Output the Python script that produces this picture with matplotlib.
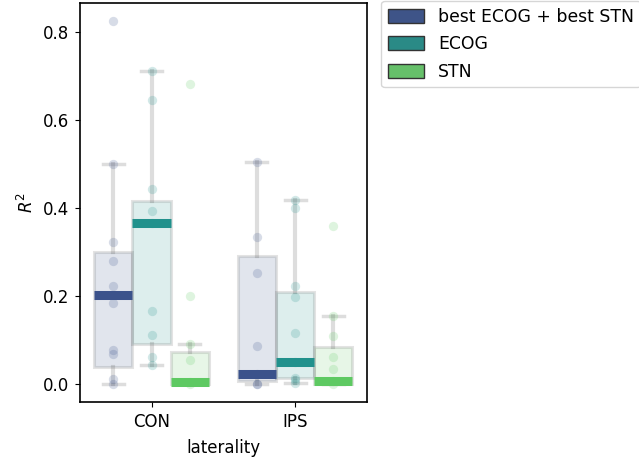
import numpy as np
import matplotlib.pyplot as plt
from matplotlib.patches import Patch

# ---------------------------------------------------------------------
# Data
# ---------------------------------------------------------------------
lateralities = ["CON", "IPS"]
models = ["best ECOG + best STN", "ECOG", "STN"]
colors = ["#3b528b", "#21918c", "#5ec962"]
legend_colors = ["#3e5488", "#2a8a86", "#66c06a"]

# box statistics per laterality -> per model
medians = [[0.202, 0.365, 0.005], [0.022, 0.049, 0.007]]
q1s = [[0.038, 0.090, 0.0], [0.006, 0.013, 0.0]]
q3s = [[0.299, 0.416, 0.073], [0.291, 0.208, 0.085]]
whis_lo = [[0.0, 0.042, 0.0], [0.001, 0.002, 0.0]]
whis_hi = [[0.499, 0.712, 0.091], [0.505, 0.419, 0.154]]

# individual subject points
points_con_best = [0.825, 0.499, 0.323, 0.280, 0.223, 0.185, 0.077, 0.068, 0.011, 0.0]
points_con_ecog = [0.712, 0.644, 0.442, 0.393, 0.365, 0.165, 0.112, 0.062, 0.042]
points_con_stn = [0.682, 0.200, 0.091, 0.055, 0.005, 0.0]
points_ips_best = [0.505, 0.333, 0.253, 0.087, 0.022, 0.001, 0.0]
points_ips_ecog = [0.419, 0.399, 0.222, 0.197, 0.116, 0.049, 0.014, 0.009, 0.003]
points_ips_stn = [0.358, 0.154, 0.108, 0.061, 0.033, 0.007, 0.0]
points = [[points_con_best, points_con_ecog, points_con_stn],
          [points_ips_best, points_ips_ecog, points_ips_stn]]

# ---------------------------------------------------------------------
# Plot
# ---------------------------------------------------------------------
fig = plt.figure(figsize=(6.39, 4.61), dpi=100)
ax = fig.add_axes([0.125, 0.128, 0.449, 0.866])

width = 0.8 / len(models)
offsets = [(i - 1) * width for i in range(len(models))]

for li, lat in enumerate(lateralities):
    for mi, model in enumerate(models):
        pos = li + offsets[mi]
        stats = [{
            "med": medians[li][mi], "q1": q1s[li][mi], "q3": q3s[li][mi],
            "whislo": whis_lo[li][mi], "whishi": whis_hi[li][mi], "fliers": [],
        }]
        ax.bxp(stats, positions=[pos], widths=width, patch_artist=True,
               showfliers=False, capwidths=width * 0.55,
               boxprops=dict(facecolor=colors[mi], alpha=0.15,
                             edgecolor="#444444", linewidth=2.2),
               whiskerprops=dict(color="#555555", alpha=0.2, linewidth=3),
               capprops=dict(color="#555555", alpha=0.2, linewidth=2.5),
               medianprops=dict(linewidth=0, alpha=0))
        y = points[li][mi]
        ax.scatter(np.full(len(y), pos), y, s=45, color=colors[mi],
                   alpha=0.2, linewidths=0, zorder=3)
        ax.plot([pos - width / 2, pos + width / 2],
                [medians[li][mi]] * 2, color=colors[mi], linewidth=6.5,
                solid_capstyle="butt", zorder=4)

ax.set_xlim(-0.5, 1.5)
ax.set_ylim(-0.041, 0.866)
ax.set_xticks(range(len(lateralities)))
ax.set_xticklabels(lateralities)
ax.set_yticks([0.0, 0.2, 0.4, 0.6, 0.8])
ax.set_xlabel("laterality", fontsize=12, labelpad=6)
ax.set_ylabel("$R^2$", fontsize=12)
ax.tick_params(labelsize=12, pad=4.5)
for s in ax.spines.values():
    s.set_linewidth(1.2)

handles = [Patch(facecolor=c, edgecolor="#333333", label=m)
           for c, m in zip(legend_colors, models)]
ax.legend(handles=handles, loc="upper left", bbox_to_anchor=(1.05, 1.005),
          fontsize=12.4, borderaxespad=0, labelspacing=0.55,
          handlelength=2.1, handleheight=0.85)

fig.savefig("out.png", dpi=100)
